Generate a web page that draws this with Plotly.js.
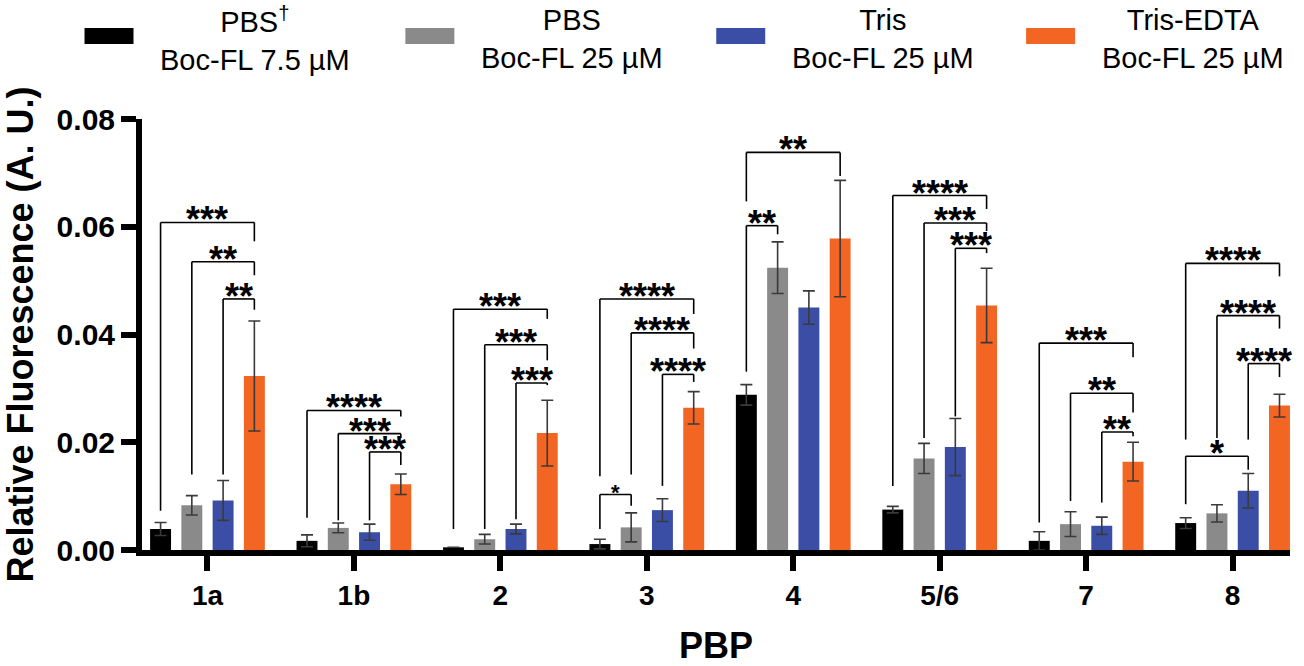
<!DOCTYPE html>
<html><head><meta charset="utf-8">
<script src="https://cdn.plot.ly/plotly-3.0.1.min.js"></script>
<style>html,body{margin:0;padding:0;background:#fff}#chart{width:1304px;height:666px}</style>
</head><body><div id="chart"></div>
<script>
// ---- data ----
const categories = ['1a', '1b', '2', '3', '4', '5/6', '7', '8'];
const seriesNames = ['PBS<sup>†</sup><br>Boc-FL 7.5 µM', 'PBS<br>Boc-FL 25 µM', 'Tris<br>Boc-FL 25 µM', 'Tris-EDTA<br>Boc-FL 25 µM'];
const pbsDagger     = [0.0039, 0.0017, 0.0005, 0.0011, 0.0288, 0.0075, 0.0017, 0.0050];
const pbsDaggerErr  = [0.0012, 0.0011, 0.0000, 0.0009, 0.0019, 0.0006, 0.0017, 0.0010];
const pbs           = [0.0083, 0.0041, 0.0020, 0.0042, 0.0524, 0.0170, 0.0048, 0.0068];
const pbsErr        = [0.0018, 0.0009, 0.0009, 0.0027, 0.0048, 0.0028, 0.0023, 0.0016];
const tris          = [0.0092, 0.0033, 0.0039, 0.0074, 0.0450, 0.0191, 0.0045, 0.0110];
const trisErr       = [0.0037, 0.0015, 0.0009, 0.0021, 0.0031, 0.0053, 0.0016, 0.0032];
const trisEdta      = [0.0323, 0.0122, 0.0217, 0.0264, 0.0578, 0.0454, 0.0164, 0.0268];
const trisEdtaErr   = [0.0102, 0.0019, 0.0061, 0.0030, 0.0108, 0.0069, 0.0036, 0.0021];
const yTickVals = [0, 0.02, 0.04, 0.06, 0.08];

// significance comparisons: [category index, series from, series to, bracket level, left leg end, right leg end, label, small]
const comparisons = [
  [0, 0, 3, 0.0608, 0.0073, 0.0573, '***', false],
  [0, 1, 3, 0.0535, 0.0140, 0.0510, '**', false],
  [0, 2, 3, 0.0466, 0.0140, 0.0446, '**', false],
  [1, 0, 3, 0.0259, 0.0060, 0.0248, '****', false],
  [1, 1, 3, 0.0216, 0.0055, 0.0208, '***', false],
  [1, 2, 3, 0.0182, 0.0055, 0.0158, '***', false],
  [2, 0, 3, 0.0447, 0.0039, 0.0429, '***', false],
  [2, 1, 3, 0.0381, 0.0039, 0.0352, '***', false],
  [2, 2, 3, 0.0310, 0.0057, 0.0306, '***', false],
  [3, 0, 3, 0.0466, 0.0137, 0.0438, '****', false],
  [3, 1, 3, 0.0403, 0.0140, 0.0374, '****', false],
  [3, 2, 3, 0.0326, 0.0119, 0.0312, '****', false],
  [3, 0, 1, 0.0103, 0.0039, 0.0082, '*', true],
  [4, 0, 3, 0.0738, 0.0647, 0.0694, '**', false],
  [4, 0, 1, 0.0602, 0.0331, 0.0586, '**', false],
  [5, 0, 3, 0.0658, 0.0119, 0.0633, '****', false],
  [5, 1, 3, 0.0607, 0.0208, 0.0592, '***', false],
  [5, 2, 3, 0.0560, 0.0248, 0.0551, '***', false],
  [6, 0, 3, 0.0384, 0.0051, 0.0358, '***', false],
  [6, 1, 3, 0.0291, 0.0091, 0.0255, '**', false],
  [6, 2, 3, 0.0219, 0.0088, 0.0211, '**', false],
  [7, 0, 3, 0.0532, 0.0205, 0.0508, '****', false],
  [7, 1, 3, 0.0435, 0.0208, 0.0411, '****', false],
  [7, 2, 3, 0.0346, 0.0205, 0.0321, '****', false],
  [7, 0, 2, 0.0174, 0.0085, 0.0149, '*', false]
];

// ---- styling / geometry ----
const FONT = 'Liberation Sans, Arial, Helvetica, sans-serif';
const colors = ['#000000', '#8a8a8a', '#3a4ea6', '#f26522'];
const values = [pbsDagger, pbs, tris, trisEdta];
const errors = [pbsDaggerErr, pbsErr, trisErr, trisEdtaErr];
const BARGAP = 0.146, BARGROUPGAP = 0.33;
const slot = (1 - BARGAP) / 4;
const M = {l: 141.5, r: 14, t: 119, b: 116};
const PW = 1304 - M.l - M.r, PH = 666 - M.t - M.b;
const px2x = px => (px - M.l) / PW;
const py2y = py => (666 - M.b - py) / PH;

const traces = values.map((v, k) => ({
  type: 'bar', x: categories, y: v, name: seriesNames[k],
  marker: {color: colors[k], line: {width: 0}},
  error_y: {type: 'data', array: errors[k], visible: true, color: '#3a3a3a', thickness: 1.6, width: 6},
  showlegend: false, hoverinfo: 'skip'
}));

const shapes = [];
const annotations = [];
comparisons.forEach(c => {
  const [g, a, b, lvl, le, re, lab, small] = c;
  const xa = g + (a - 1.5) * slot, xb = g + (b - 1.5) * slot;
  const ln = {color: '#000', width: 1.6};
  shapes.push({type: 'line', xref: 'x', yref: 'y', x0: xa, x1: xa, y0: le, y1: lvl, line: ln});
  shapes.push({type: 'line', xref: 'x', yref: 'y', x0: xa, x1: xb, y0: lvl, y1: lvl, line: ln});
  shapes.push({type: 'line', xref: 'x', yref: 'y', x0: xb, x1: xb, y0: lvl, y1: re, line: ln});
  annotations.push({xref: 'x', yref: 'y', x: (xa + xb) / 2, y: lvl, text: lab, showarrow: false,
    xanchor: 'center', yanchor: 'bottom', yshift: small ? -12 : -20,
    font: {family: FONT, size: small ? 22 : 36, weight: 700, color: '#000'}});
});

// custom legend (wide swatches + centred two-line labels)
const legendLeft = [84, 405, 716, 1026];
legendLeft.forEach((lx, k) => {
  shapes.push({type: 'rect', xref: 'paper', yref: 'paper', x0: px2x(lx), x1: px2x(lx + 49),
    y0: py2y(44), y1: py2y(28), fillcolor: colors[k], line: {width: 0}});
  annotations.push({xref: 'paper', yref: 'paper', x: px2x(lx + 49 + 25), y: py2y(39),
    xanchor: 'left', yanchor: 'middle', align: 'center', showarrow: false, text: seriesNames[k],
    font: {family: FONT, size: 29, color: '#000'}});
});

const layout = {
  width: 1304, height: 666, margin: M,
  paper_bgcolor: '#fff', plot_bgcolor: '#fff',
  barmode: 'group', bargap: BARGAP, bargroupgap: BARGROUPGAP,
  showlegend: false,
  font: {family: FONT, color: '#000'},
  xaxis: {
    type: 'category', range: [-0.447, 7.392], fixedrange: true,
    showline: true, linewidth: 6, linecolor: '#000',
    ticks: 'outside', ticklen: 15, tickwidth: 6, tickcolor: '#000',
    tickfont: {family: FONT, size: 28, weight: 700, color: '#000'},
    showgrid: false, zeroline: false,
    title: {text: 'PBP', font: {family: FONT, size: 36, weight: 700, color: '#000'}, standoff: 34}
  },
  yaxis: {
    range: [0, 0.08], fixedrange: true,
    tickmode: 'array', tickvals: yTickVals, tickformat: '.2f',
    showline: true, linewidth: 6, linecolor: '#000',
    ticks: 'outside', ticklen: 15, tickwidth: 6, tickcolor: '#000',
    tickfont: {family: FONT, size: 30, weight: 700, color: '#000'},
    showgrid: false, zeroline: false,
    title: {text: 'Relative Fluorescence (A. U.)', font: {family: FONT, size: 36, weight: 700, color: '#000'}, standoff: 18}
  },
  shapes: shapes,
  annotations: annotations
};

Plotly.newPlot('chart', traces, layout, {displayModeBar: false, staticPlot: true});
</script>
</body></html>
